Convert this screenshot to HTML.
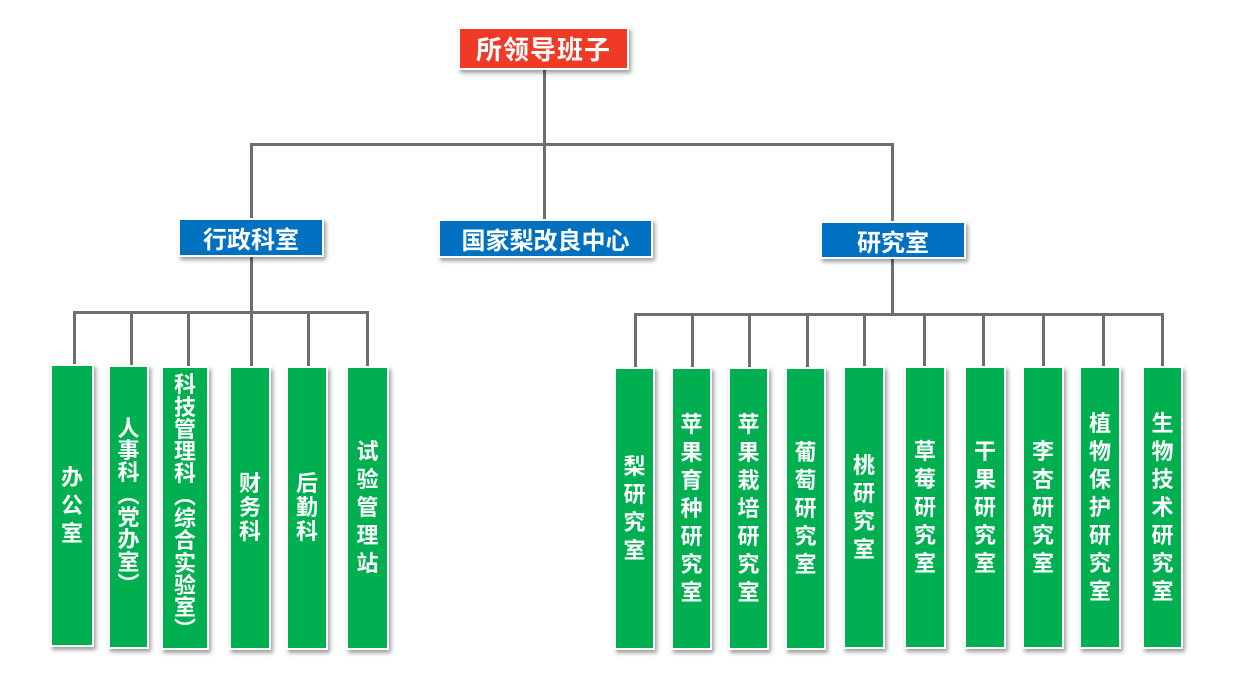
<!DOCTYPE html>
<html><head><meta charset="utf-8">
<style>
html,body{margin:0;padding:0;background:#fff;}
body{width:1234px;height:692px;position:relative;overflow:hidden;font-family:"Liberation Sans","Noto Sans CJK SC","WenQuanYi Zen Hei",sans-serif;}
.l{position:absolute;background:#6e6e6e;}
.b{position:absolute;box-sizing:border-box;border:2px solid #fff;box-shadow:2px 3px 4px rgba(0,0,0,0.38);color:#fff;font-weight:bold;display:flex;align-items:center;justify-content:center;}
.red{background:#EE3A26;font-size:26px;letter-spacing:1px;}
.blue{background:#0070C0;font-size:24px;}
.g{background:#00B050;flex-direction:column;font-size:22px;}
.g span{display:block;line-height:28px;height:28px;}
.g.t span{line-height:22.3px;height:22.3px;}
.g.m span{line-height:24px;height:24px;}
</style></head><body>
<!-- top connectors -->
<div class="l" style="left:543px;top:68px;width:3px;height:153px;"></div>
<div class="l" style="left:250px;top:143px;width:644px;height:3px;"></div>
<div class="l" style="left:250px;top:143px;width:3px;height:77px;"></div>
<div class="l" style="left:891px;top:143px;width:3px;height:80px;"></div>
<!-- left connectors -->
<div class="l" style="left:250px;top:255px;width:3px;height:112px;"></div>
<div class="l" style="left:73px;top:311px;width:296px;height:3px;"></div>
<div class="l" style="left:73px;top:311px;width:3px;height:56px;"></div>
<div class="l" style="left:130px;top:311px;width:3px;height:57px;"></div>
<div class="l" style="left:187px;top:311px;width:3px;height:58px;"></div>
<div class="l" style="left:307px;top:311px;width:3px;height:58px;"></div>
<div class="l" style="left:366px;top:311px;width:3px;height:58px;"></div>
<!-- right connectors -->
<div class="l" style="left:891px;top:256px;width:3px;height:60px;"></div>
<div class="l" style="left:634px;top:313px;width:530px;height:3px;"></div>
<div class="l" style="left:634px;top:313px;width:3px;height:57px;"></div>
<div class="l" style="left:691px;top:313px;width:3px;height:57px;"></div>
<div class="l" style="left:748px;top:313px;width:3px;height:57px;"></div>
<div class="l" style="left:806px;top:313px;width:3px;height:57px;"></div>
<div class="l" style="left:863px;top:313px;width:3px;height:56px;"></div>
<div class="l" style="left:923px;top:313px;width:3px;height:56px;"></div>
<div class="l" style="left:982px;top:313px;width:3px;height:56px;"></div>
<div class="l" style="left:1042px;top:313px;width:3px;height:56px;"></div>
<div class="l" style="left:1102px;top:313px;width:3px;height:56px;"></div>
<div class="l" style="left:1161px;top:313px;width:3px;height:56px;"></div>

<!-- top boxes -->
<div class="b red" style="left:458px;top:27px;width:171px;height:43px;">所领导班子</div>
<div class="b blue" style="left:178px;top:218px;width:146px;height:39px;">行政科室</div>
<div class="b blue" style="left:438px;top:219px;width:215px;height:39px;">国家梨改良中心</div>
<div class="b blue" style="left:820px;top:221px;width:146px;height:38px;">研究室</div>

<!-- left green boxes -->
<div class="b g" style="left:50px;top:364px;width:44px;height:283px;"><span>办</span><span>公</span><span>室</span></div>
<div class="b g t" style="left:108px;top:365px;width:41px;height:284px;"><span>人</span><span>事</span><span>科</span><span>︵</span><span>党</span><span>办</span><span>室</span><span>︶</span></div>
<div class="b g t" style="left:161px;top:366px;width:48px;height:284px;"><span>科</span><span>技</span><span>管</span><span>理</span><span>科</span><span>︵</span><span>综</span><span>合</span><span>实</span><span>验</span><span>室</span><span>︶</span></div>
<div class="b g m" style="left:229px;top:366px;width:42px;height:284px;"><span>财</span><span>务</span><span>科</span></div>
<div class="b g m" style="left:286px;top:366px;width:42px;height:284px;"><span>后</span><span>勤</span><span>科</span></div>
<div class="b g" style="left:346px;top:366px;width:43px;height:284px;"><span>试</span><span>验</span><span>管</span><span>理</span><span>站</span></div>

<!-- right green boxes -->
<div class="b g" style="left:614px;top:367px;width:41px;height:283px;"><span>梨</span><span>研</span><span>究</span><span>室</span></div>
<div class="b g" style="left:671px;top:367px;width:41px;height:283px;"><span>苹</span><span>果</span><span>育</span><span>种</span><span>研</span><span>究</span><span>室</span></div>
<div class="b g" style="left:728px;top:367px;width:41px;height:283px;"><span>苹</span><span>果</span><span>栽</span><span>培</span><span>研</span><span>究</span><span>室</span></div>
<div class="b g" style="left:785px;top:367px;width:41px;height:283px;"><span>葡</span><span>萄</span><span>研</span><span>究</span><span>室</span></div>
<div class="b g" style="left:843px;top:366px;width:42px;height:283px;"><span>桃</span><span>研</span><span>究</span><span>室</span></div>
<div class="b g" style="left:904px;top:366px;width:42px;height:283px;"><span>草</span><span>莓</span><span>研</span><span>究</span><span>室</span></div>
<div class="b g" style="left:964px;top:366px;width:42px;height:283px;"><span>干</span><span>果</span><span>研</span><span>究</span><span>室</span></div>
<div class="b g" style="left:1022px;top:366px;width:42px;height:283px;"><span>李</span><span>杏</span><span>研</span><span>究</span><span>室</span></div>
<div class="b g" style="left:1079px;top:366px;width:42px;height:283px;"><span>植</span><span>物</span><span>保</span><span>护</span><span>研</span><span>究</span><span>室</span></div>
<div class="b g" style="left:1142px;top:366px;width:41px;height:283px;"><span>生</span><span>物</span><span>技</span><span>术</span><span>研</span><span>究</span><span>室</span></div>
</body></html>
